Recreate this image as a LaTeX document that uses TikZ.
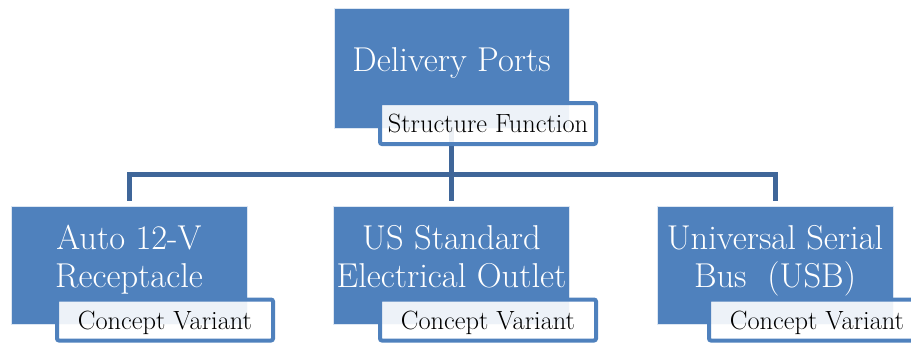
\documentclass[tikz,border=0pt]{standalone}
\usepackage{fontspec}
\definecolor{boxblue}{HTML}{4F81BD}
\definecolor{linkblue}{HTML}{3F6699}
\begin{document}
\begin{tikzpicture}[x=1pt,y=-1pt,
  unitbox/.style={fill=boxblue, draw=white!80!boxblue, line width=0.6pt,
    inner sep=0pt, minimum width=236pt, minimum height=118pt},
  unittext/.style={text=white, inner sep=0pt, anchor=north, align=center,
    font=\rmfamily\fontsize{34.5}{38}\selectfont},
  tagbox/.style={draw=boxblue, line width=4pt, fill=white, fill opacity=0.9,
    text opacity=1, rounded corners=2pt, inner sep=0pt,
    minimum width=216pt, minimum height=41pt,
    text height=18pt, text depth=0pt,
    font=\rmfamily\fontsize{26.4}{30}\selectfont},
  link/.style={draw=linkblue, line width=5pt}]
\useasboundingbox (0,0) rectangle (911,343);
\clip (0,0) rectangle (911,343);

% boxes
\node[unitbox, minimum width=235pt, minimum height=120pt] (top) at (451.5,68) {};
\node[unitbox] (c1) at (129,265) {};
\node[unitbox] (c2) at (451.5,265) {};
\node[unitbox] (c3) at (775,265) {};

% connectors
\coordinate (bus) at (452,174.5);
\draw[link] (top.south) -- (top.south |- bus);
\draw[link, shorten >=5pt] (bus) -| (c1.north);
\draw[link, shorten >=5pt] (bus) -| (c3.north);
\draw[link, shorten >=5pt] (top.south |- bus) -- (c2.north);

% box titles
\node[unittext] (ttop) at (451.5,47) {Delivery Ports};
\node[unittext] (t1) at (129,225) {Auto 12-V\\Receptacle};
\node[unittext] (t2) at (451.5,225) {US Standard\\Electrical Outlet};
\node[unittext] (t3) at (775,225) {Universal Serial\\Bus~~(USB)};

% tags
\node[tagbox] (gtop) at (488,123.5) {Structure Function};
\node[tagbox] (g1) at (165,320) {Concept Variant};
\node[tagbox] (g2) at (488,320) {Concept Variant};
\node[tagbox] (g3) at (817,320) {Concept Variant};
\end{tikzpicture}
\end{document}
